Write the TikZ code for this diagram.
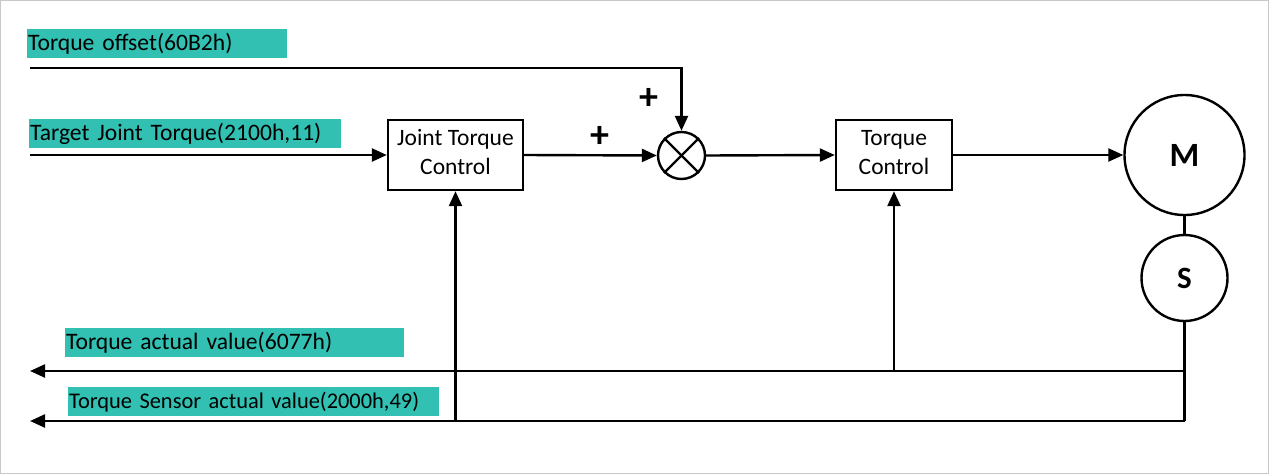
\documentclass[tikz,border=0pt]{standalone}
\usepackage{fontspec}
\setmainfont{Carlito}
\usetikzlibrary{arrows.meta}
\definecolor{tealfill}{RGB}{49,192,178}
\definecolor{frame}{RGB}{200,200,200}
\tikzset{
  conn/.style={line width=2.4pt, -{Triangle[length=15pt,width=13pt]}},
  plain/.style={line width=2.4pt},
  block/.style={draw, line width=2.4pt, rectangle, align=center, font=\fontsize{23.5}{29}\selectfont, inner sep=0pt, text depth=6pt},
  lbl/.style={fill=tealfill, anchor=north west, align=left, inner ysep=0pt, inner xsep=1pt, minimum height=29pt, font=\fontsize{23.6}{27}\selectfont},
  sign/.style={font=\bfseries\fontsize{38}{38}\selectfont, inner sep=0pt},
}
\begin{document}
\begin{tikzpicture}[x=1pt,y=-1pt]
\useasboundingbox (0,0) rectangle (1269,474);
\draw[frame, line width=1.2pt] (0.6,0.6) rectangle (1268.4,473.4);

% labels
\node[lbl, text width=258pt] (offl) at (27,29) {Torque offset(60B2h)};
\node[lbl, text width=310pt] (tjl) at (29,119) {Target Joint Torque(2100h,11)};
\node[lbl, text width=337pt] (tal) at (65,328) {Torque actual value(6077h)};
\node[lbl, text width=369pt, font=\fontsize{22.4}{27}\selectfont] (tsl) at (68,387) {Torque Sensor actual value(2000h,49)};

% blocks
\node[block, minimum width=135pt, minimum height=70pt] (jtc) at (455.5,155) {Joint Torque\\Control};
\node[block, minimum width=116pt, minimum height=70pt] (tc) at (894,155) {Torque\\Control};
\node[draw, circle, line width=2.4pt, minimum size=47pt, inner sep=0pt] (sum) at (681.5,155.5) {};
\draw[plain] (sum.north west) -- (sum.south east);
\draw[plain] (sum.north east) -- (sum.south west);
\node[draw, circle, line width=2.4pt, minimum size=120pt, inner sep=0pt, font=\bfseries\fontsize{34}{34}\selectfont] (M) at (1184.5,155) {M};
\node[draw, circle, line width=2.4pt, minimum size=86pt, inner sep=0pt, font=\bfseries\fontsize{31}{31}\selectfont] (S) at (1184.5,278) {S};

\node[sign] (p1) at (649,99) {+};
\node[sign] (p2) at (600,137) {+};

% coordinates
\coordinate (offs) at (30,68);
\coordinate (offc) at (681.5,68);
\coordinate (tjs) at (30,155);
\coordinate (r1) at (1184.5,371);
\coordinate (r2) at (1184.5,421);
\coordinate (o1) at (30,371);
\coordinate (o2) at (30,421);
\coordinate (b1) at (894,371);
\coordinate (b2) at (455.5,421);

% connectors
\draw[conn] (offs) -- (offc) -- (sum.north);
\draw[conn] (tjs) -- (jtc.west);
\draw[conn] (jtc.east) -- (sum.west);
\draw[conn] (sum.east) -- (tc.west);
\draw[conn] (tc.east) -- (M.west);
\draw[plain] (M.south) -- (S.north);
\draw[plain] (S.south) -- (r2);
\draw[conn] (r1) -- (o1);
\draw[conn] (r2) -- (o2);
\draw[conn] (b1) -- (tc.south);
\draw[conn] (b2) -- (jtc.south);
\end{tikzpicture}
\end{document}
